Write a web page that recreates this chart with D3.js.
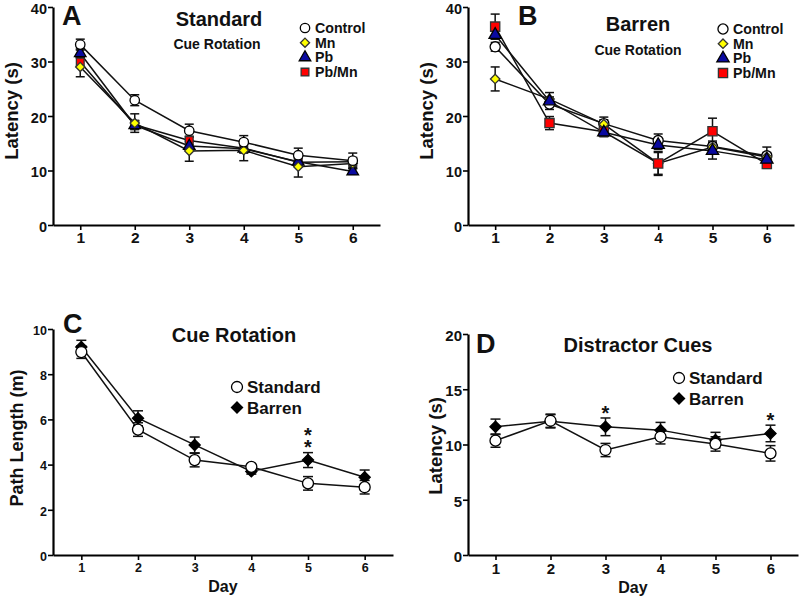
<!DOCTYPE html>
<html>
<head>
<meta charset="utf-8">
<script src="https://cdn.jsdelivr.net/npm/d3@7"></script>
<style>
  html, body { margin: 0; padding: 0; background: #fff; }
  svg { display: block; font-family: "Liberation Sans", Arial, sans-serif; font-weight: bold; }
</style>
</head>
<body>
<svg id="chart" width="800" height="597"></svg>
<script>
// ---------- DATA ----------
const days = [1, 2, 3, 4, 5, 6];
const groupsAB = ["Control", "Mn", "Pb", "Pb/Mn"];
const groupsCD = ["Standard", "Barren"];

const yTicksAB = [0, 10, 20, 30, 40];
const yTicksC = [0, 2, 4, 6, 8, 10];
const yTicksD = [0, 5, 10, 15, 20];

// Panel A: Standard, cue rotation latency (s)
const aControl = [33.1, 22.9, 17.3, 15.2, 12.8, 11.8];
const aControlErr = [1.0, 1.0, 1.2, 1.2, 1.3, 1.4];
const aMn = [29.0, 18.7, 13.6, 13.7, 10.7, 11.3];
const aMnErr = [1.8, 1.7, 1.9, 1.9, 1.9, 0.8];
const aPb = [31.5, 18.3, 14.5, 14.0, 11.6, 9.8];
const aPbErr = [0.8, 0.8, 0.8, 0.8, 0.8, 0.5];
const aPbMn = [29.9, 18.4, 15.5, 14.1, 11.5, 11.6];
const aPbMnErr = [0.8, 0.8, 0.8, 0.8, 0.8, 0.8];

// Panel B: Barren, cue rotation latency (s)
const bControl = [32.7, 22.2, 18.6, 15.5, 14.4, 12.7];
const bControlErr = [0.8, 1.0, 1.2, 1.2, 1.0, 1.6];
const bMn = [26.8, 23.1, 18.5, 11.3, 14.3, 12.5];
const bMnErr = [2.2, 1.2, 0.8, 2.2, 0.8, 0.8];
const bPb = [34.9, 22.7, 17.0, 14.7, 13.6, 12.0];
const bPbErr = [0.8, 0.8, 0.8, 0.8, 1.5, 0.8];
const bPbMn = [36.4, 18.7, 17.1, 11.3, 17.2, 11.2];
const bPbMnErr = [2.3, 1.2, 0.8, 2.0, 2.4, 0.8];

// Panel C: cue rotation path length (m)
const cStandard = [8.98, 5.55, 4.2, 3.9, 3.17, 3.0];
const cStandardErr = [0.28, 0.3, 0.3, 0.12, 0.3, 0.3];
const cBarren = [9.2, 6.05, 4.87, 3.7, 4.2, 3.44];
const cBarrenErr = [0.3, 0.33, 0.35, 0.12, 0.33, 0.32];
const cSigDays = [5];
const cSigMarks = ["**"];

// Panel D: distractor cues latency (s)
const dStandard = [10.35, 12.15, 9.5, 10.7, 10.05, 9.2];
const dStandardErr = [0.6, 0.6, 0.6, 0.65, 0.65, 0.7];
const dBarren = [11.6, 12.1, 11.6, 11.3, 10.4, 11.0];
const dBarrenErr = [0.7, 0.6, 0.8, 0.7, 0.7, 0.75];
const dSigDays = [3, 6];
const dSigMarks = ["*", "*"];

// ---------- STYLES ----------
const symbolRhombus = {
  draw(ctx, size) {
    const r = Math.sqrt(size / 2);
    ctx.moveTo(0, -r); ctx.lineTo(r, 0); ctx.lineTo(0, r); ctx.lineTo(-r, 0); ctx.closePath();
  }
};
const styleAB = {
  "Control": { type: d3.symbolCircle, size: 70, fill: "#ffffff", stroke: "#000" },
  "Mn":      { type: symbolRhombus, size: 42, fill: "#ffff00", stroke: "#333" },
  "Pb":      { type: d3.symbolTriangle, size: 58, fill: "#0a0aa0", stroke: "#000" },
  "Pb/Mn":   { type: d3.symbolSquare, size: 60, fill: "#ff0000", stroke: "#333" }
};
const styleB = {
  "Control": { type: d3.symbolCircle, size: 80, fill: "#ffffff", stroke: "#000" },
  "Mn":      { type: symbolRhombus, size: 45, fill: "#ffff00", stroke: "#333" },
  "Pb":      { type: d3.symbolTriangle, size: 66, fill: "#0a0aa0", stroke: "#000" },
  "Pb/Mn":   { type: d3.symbolSquare, size: 85, fill: "#ff0000", stroke: "#333" }
};
const styleCD = {
  "Standard": { type: d3.symbolCircle, size: 95, fill: "#ffffff", stroke: "#000" },
  "Barren":   { type: symbolRhombus, size: 62, fill: "#000000", stroke: "#000" }
};

const svg = d3.select("#chart");

function drawPanel(cfg) {
  const g = svg.append("g");
  const x = d3.scaleLinear().domain([0.5, 6.5]).range(cfg.xRange);
  const y = d3.scaleLinear().domain(cfg.yDomain).range(cfg.yRange);

  // axes
  const yAxis = g.append("g")
    .attr("transform", `translate(${cfg.xRange[0]},0)`)
    .call(d3.axisLeft(y).tickValues(cfg.yTicks).tickSize(5).tickSizeOuter(0).tickPadding(1));
  const xAxis = g.append("g")
    .attr("transform", `translate(0,${cfg.yRange[0]})`)
    .call(d3.axisBottom(x).tickValues(days).tickFormat(d3.format("d")).tickSize(5).tickSizeOuter(0).tickPadding(cfg.xTickPad));
  [yAxis, xAxis].forEach(ax => {
    ax.select(".domain").attr("stroke", "#000").attr("stroke-width", 2.2);
    ax.selectAll(".tick line").attr("stroke", "#000").attr("stroke-width", 1.6);
    ax.selectAll(".tick text").attr("fill", "#111").style("font-family", "'Liberation Sans', Arial, sans-serif").style("font-weight", "bold");
  });
  yAxis.selectAll(".tick text").style("font-size", cfg.yTickFont + "px").attr("dy", "0.42em");
  xAxis.selectAll(".tick text").style("font-size", cfg.xTickFont + "px");

  // y-axis label
  g.append("text")
    .attr("transform", `translate(${cfg.yLabelPos[0]},${cfg.yLabelPos[1]}) rotate(-90)`)
    .attr("text-anchor", "middle").attr("dominant-baseline", "central")
    .style("font-size", cfg.yLabelFont + "px").attr("fill", "#111")
    .text(cfg.yLabel);
  if (cfg.xLabel) {
    g.append("text")
      .attr("x", cfg.xLabelPos[0]).attr("y", cfg.xLabelPos[1])
      .attr("text-anchor", "middle").style("font-size", "16px").attr("fill", "#111")
      .text(cfg.xLabel);
  }

  // lines
  const line = d3.line().x((d, i) => x(days[i])).y(d => y(d));
  cfg.series.forEach(s => {
    g.append("path").datum(s.values).attr("d", line)
      .attr("fill", "none").attr("stroke", "#111").attr("stroke-width", 1.5);
  });
  // error bars
  cfg.series.forEach(s => {
    const eg = g.append("g").attr("stroke", "#111").attr("stroke-width", 1.5);
    s.values.forEach((v, i) => {
      const cx = x(days[i]);
      const top = y(v + s.err[i]), bot = y(v - s.err[i]);
      eg.append("line").attr("x1", cx).attr("x2", cx).attr("y1", top).attr("y2", bot);
      eg.append("line").attr("x1", cx - cfg.cap).attr("x2", cx + cfg.cap).attr("y1", top).attr("y2", top);
      eg.append("line").attr("x1", cx - cfg.cap).attr("x2", cx + cfg.cap).attr("y1", bot).attr("y2", bot);
    });
  });
  // markers
  cfg.drawOrder.forEach(idx => {
    const s = cfg.series[idx];
    const st = cfg.style[s.name];
    g.append("g").selectAll("path").data(s.values).join("path")
      .attr("transform", (d, i) => `translate(${x(days[i])},${y(d)})`)
      .attr("d", d3.symbol().type(st.type).size(st.size))
      .attr("fill", st.fill).attr("stroke", st.stroke).attr("stroke-width", 1.3);
  });

  // significance marks: stacked asterisks as a single vertical text
  if (cfg.sig) {
    cfg.sig.days.forEach((dday, k) => {
      const s = cfg.series[cfg.sig.series];
      const i = days.indexOf(dday);
      const topY = y(s.values[i] + s.err[i]);
      const marks = cfg.sig.marks[k];
      if (marks.length === 1) {
        g.append("text").attr("x", x(dday)).attr("y", topY + 2)
          .attr("text-anchor", "middle").style("font-size", "20px").attr("fill", "#111")
          .text(marks);
      } else {
        // vertical column of asterisks, bottom one ~10px above the error cap
        g.append("text")
          .attr("x", x(dday)).attr("y", topY - 4)
          .attr("text-anchor", "end")
          .style("writing-mode", "vertical-rl")
          .style("text-orientation", "upright")
          .style("letter-spacing", "-9.5px")
          .style("font-size", "20px").attr("fill", "#111")
          .text(marks);
      }
    });
  }

  // panel letter and titles
  g.append("text").attr("x", cfg.letterPos[0]).attr("y", cfg.letterPos[1])
    .style("font-size", "27px").attr("fill", "#111").text(cfg.letter);
  cfg.titles.forEach(t => {
    g.append("text").attr("x", t.x).attr("y", t.y).attr("text-anchor", "middle")
      .style("font-size", t.size + "px").attr("fill", "#111").text(t.text);
  });

  // legend
  cfg.series.forEach((s, k) => {
    const st = cfg.style[s.name];
    const ly = cfg.legend.y0 + k * cfg.legend.dy;
    g.append("path").attr("transform", `translate(${cfg.legend.sx},${ly - cfg.legend.symOff})`)
      .attr("d", d3.symbol().type(st.type).size(st.size))
      .attr("fill", st.fill).attr("stroke", st.stroke).attr("stroke-width", 1.3);
    g.append("text").attr("x", cfg.legend.tx).attr("y", ly)
      .style("font-size", cfg.legend.font + "px").attr("fill", "#111").text(s.name);
  });
}

// Panel A
drawPanel({
  xRange: [53, 380], yDomain: [0, 40], yRange: [225, 7], yTicks: yTicksAB,
  yTickFont: 14.5, xTickFont: 15.5, xTickPad: 2, cap: 4.5,
  yLabel: "Latency (s)", yLabelPos: [11, 111], yLabelFont: 18.5,
  series: [
    { name: groupsAB[0], values: aControl, err: aControlErr },
    { name: groupsAB[1], values: aMn, err: aMnErr },
    { name: groupsAB[2], values: aPb, err: aPbErr },
    { name: groupsAB[3], values: aPbMn, err: aPbMnErr }
  ],
  drawOrder: [3, 2, 1, 0],
  style: styleAB,
  letter: "A", letterPos: [62, 25],
  titles: [{ text: "Standard", x: 219, y: 26, size: 20 }, { text: "Cue Rotation", x: 217, y: 49, size: 14 }],
  legend: { sx: 305, tx: 315, y0: 33, dy: 14.7, symOff: 5, font: 14.2 }
});

// Panel B
drawPanel({
  xRange: [468, 794], yDomain: [0, 40], yRange: [225, 7], yTicks: yTicksAB,
  yTickFont: 14.5, xTickFont: 15.5, xTickPad: 2, cap: 4.5,
  yLabel: "Latency (s)", yLabelPos: [426, 111], yLabelFont: 18.5,
  series: [
    { name: groupsAB[0], values: bControl, err: bControlErr },
    { name: groupsAB[1], values: bMn, err: bMnErr },
    { name: groupsAB[2], values: bPb, err: bPbErr },
    { name: groupsAB[3], values: bPbMn, err: bPbMnErr }
  ],
  drawOrder: [0, 1, 3, 2],
  style: styleB,
  letter: "B", letterPos: [518, 25],
  titles: [{ text: "Barren", x: 638, y: 31, size: 20 }, { text: "Cue Rotation", x: 638, y: 55, size: 14 }],
  legend: { sx: 723, tx: 733, y0: 34, dy: 14.7, symOff: 5, font: 14.2 }
});

// Panel C
drawPanel({
  xRange: [53, 393], yDomain: [0, 10], yRange: [555, 329], yTicks: yTicksC,
  yTickFont: 12.5, xTickFont: 12.5, xTickPad: 3, cap: 5,
  yLabel: "Path Length (m)", yLabelPos: [17, 438], yLabelFont: 18,
  xLabel: "Day", xLabelPos: [223, 592],
  series: [
    { name: groupsCD[0], values: cStandard, err: cStandardErr },
    { name: groupsCD[1], values: cBarren, err: cBarrenErr }
  ],
  drawOrder: [1, 0],
  style: styleCD,
  sig: { series: 1, days: cSigDays, marks: cSigMarks },
  letter: "C", letterPos: [63, 333],
  titles: [{ text: "Cue Rotation", x: 234, y: 342, size: 20 }],
  legend: { sx: 237, tx: 247, y0: 393, dy: 20.5, symOff: 6, font: 17 }
});

// Panel D
drawPanel({
  xRange: [468, 798], yDomain: [0, 20], yRange: [555, 334], yTicks: yTicksD,
  yTickFont: 15, xTickFont: 15, xTickPad: 3, cap: 5,
  yLabel: "Latency (s)", yLabelPos: [435, 446], yLabelFont: 18.5,
  xLabel: "Day", xLabelPos: [633, 593],
  series: [
    { name: groupsCD[0], values: dStandard, err: dStandardErr },
    { name: groupsCD[1], values: dBarren, err: dBarrenErr }
  ],
  drawOrder: [1, 0],
  style: styleCD,
  sig: { series: 1, days: dSigDays, marks: dSigMarks },
  letter: "D", letterPos: [476, 353],
  titles: [{ text: "Distractor Cues", x: 638, y: 352, size: 20 }],
  legend: { sx: 679, tx: 689, y0: 384, dy: 20.5, symOff: 6, font: 17 }
});
</script>
</body>
</html>
